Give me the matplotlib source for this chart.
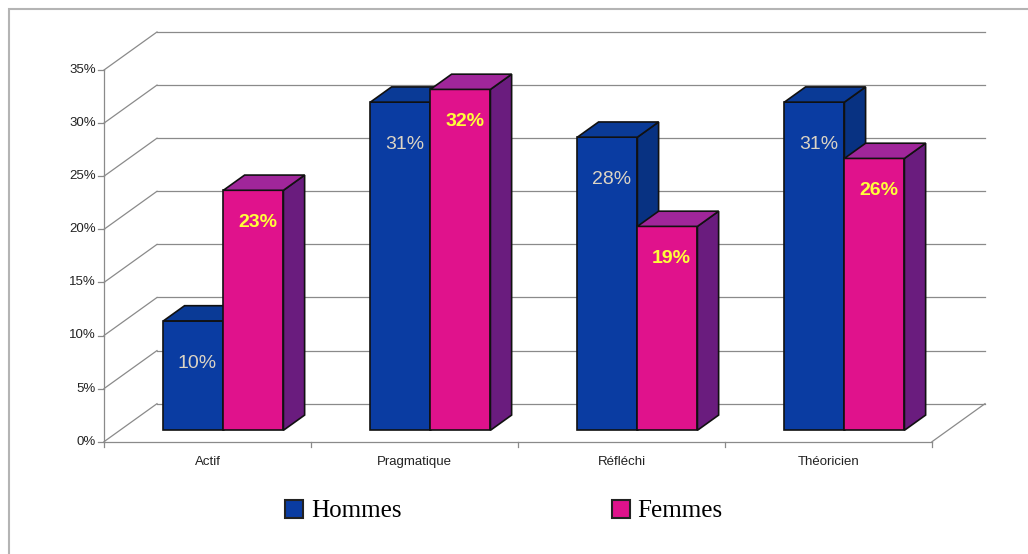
import matplotlib
matplotlib.use("Agg")
import matplotlib.pyplot as plt
import matplotlib.patches as patches
from matplotlib.patches import Patch

# data
categories = ["Actif", "Pragmatique", "Réfléchi", "Théoricien"]
series = ["Hommes", "Femmes"]
hommes = [10.3, 30.9, 27.6, 30.9]
femmes = [22.6, 32.1, 19.2, 25.6]
yticks = [0, 5, 10, 15, 20, 25, 30, 35]

# colours: front, side, top
colors = {
    "Hommes": ("#0a3ca2", "#083282", "#0a3a96"),
    "Femmes": ("#e0128c", "#6a1c7e", "#a0269a"),
}
label_colors = {"Hommes": "#dcd4c4", "Femmes": "#ffff3a"}
label_weight = {"Hommes": "normal", "Femmes": "bold"}
label_drop = {"Hommes": 4.0, "Femmes": 3.0}

# pseudo 3d geometry (x in category units, y in %)
DX, DY = 0.256, 3.58     # depth of the walls
W = 0.29                 # bar width
GAP = (1 - 2 * W) / 2
Z0, DZ = 0.3, 0.4        # bar position / thickness in depth
GRID = "#8a8a8a"

fig = plt.figure(figsize=(10.28, 5.54), dpi=100)
ax = fig.add_axes([0, 0, 1, 1])
ax.set_xlim(-104 / 207, (1028 - 104) / 207)
ax.set_ylim(-(554 - 441.7) / 10.62, 441.7 / 10.62)
ax.axis("off")

sans = "Liberation Sans"
n = len(categories)

# walls and grid
for v in yticks:
    ax.plot([0, DX], [v, v + DY], color=GRID, lw=0.9, zorder=1)
    ax.plot([DX, n + DX], [v + DY, v + DY], color=GRID, lw=0.9, zorder=1)
    ax.plot([-0.03, 0], [v, v], color=GRID, lw=0.9, zorder=1)
    ax.text(-0.04, v, f"{v}%", ha="right", va="center", fontsize=9.5,
            family=sans, color="#222222")
ax.plot([0, 0], [0, yticks[-1]], color=GRID, lw=0.9, zorder=1)
ax.plot([0, n], [0, 0], color=GRID, lw=0.9, zorder=1)
ax.plot([n, n + DX], [0, DY], color=GRID, lw=0.9, zorder=1)
for i in range(n + 1):
    ax.plot([i, i], [0, -0.5], color=GRID, lw=0.9, zorder=1)
for i, c in enumerate(categories):
    ax.text(i + 0.5, -1.9, c, ha="center", va="center", fontsize=9.5,
            family=sans, color="#222222")

# bars (front face sits Z0 deep, so its baseline is lifted)
xs = [i + GAP + Z0 * DX for i in range(n)]
base = Z0 * DY
ddx, ddy = DZ * DX, DZ * DY
for s, (name, vals) in enumerate(zip(series, [hommes, femmes])):
    front, side, top = colors[name]
    left = [x + s * W for x in xs]
    ax.bar(left, vals, width=W, bottom=base, align="edge", color=front,
           edgecolor="#111111", lw=1.2, zorder=3 + s)
    for x, v in zip(left, vals):
        r = x + W
        t = v + base
        ax.add_patch(patches.Polygon(
            [(r, base), (r + ddx, base + ddy), (r + ddx, t + ddy), (r, t)],
            facecolor=side, edgecolor="#111111", lw=1.2, zorder=3 + s))
        ax.add_patch(patches.Polygon(
            [(x, t), (r, t), (r + ddx, t + ddy), (x + ddx, t + ddy)],
            facecolor=top, edgecolor="#111111", lw=1.2, zorder=3 + s))
        ax.text(x + W / 2 + 0.02, t - label_drop[name], f"{round(v)}%",
                ha="center", va="center", fontsize=14, family=sans,
                weight=label_weight[name], color=label_colors[name],
                zorder=6)

# legend
handles = [Patch(facecolor=colors[nm][0], edgecolor="#222222", lw=1.5,
                 label=nm) for nm in series]
ax.legend(handles=handles, ncol=2, loc="center left",
          bbox_to_anchor=((273 - 104) / 207, -(511 - 441.7) / 10.62),
          bbox_transform=ax.transData, frameon=False, borderpad=0,
          handlelength=0.72, handleheight=0.72, handletextpad=0.3,
          columnspacing=8.4, prop={"family": "Liberation Serif", "size": 18})

# outer frame
fig.add_artist(patches.Rectangle((9 / 1028, -0.1), 1.2, (545 / 554) + 0.1,
                                 transform=fig.transFigure, fill=False,
                                 edgecolor="#b4b4b4", lw=1.5))

fig.savefig("out.png", dpi=100)
